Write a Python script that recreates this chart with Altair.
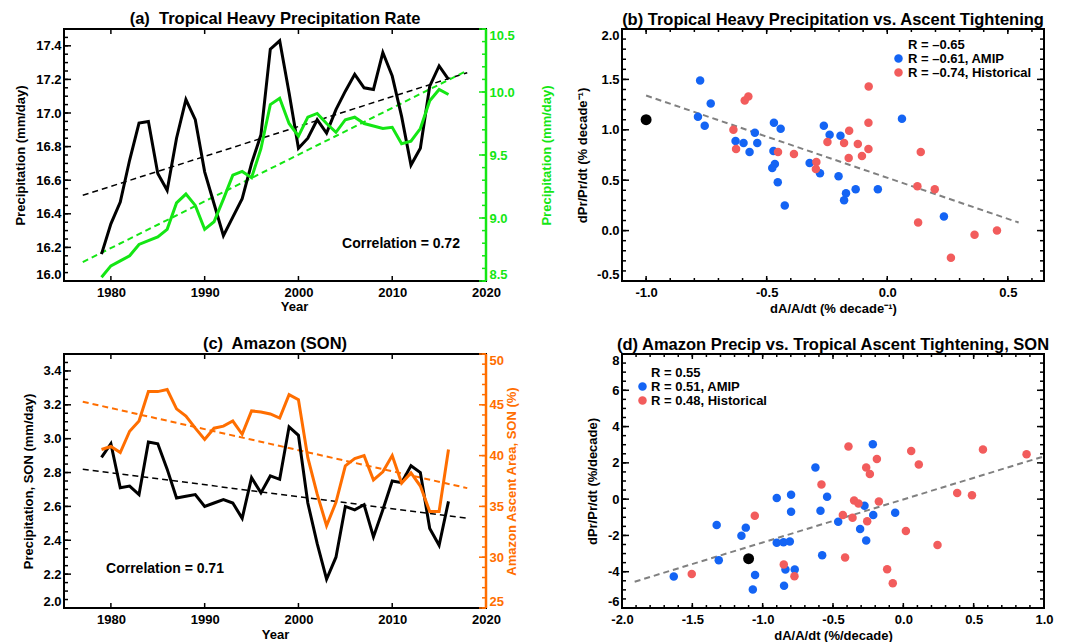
import altair as alt
import pandas as pd

FONT = "Liberation Sans"
BLUE = "#1464F4"
RED = "#F25C5C"
GREEN = "#14E614"
ORANGE = "#FF6E00"
MINUS = "replace(datum.label, '\u2212', '-')"

# ---------------- data ----------------
years = list(range(1979, 2017))

a_heavy = [16.16, 16.34, 16.47, 16.72, 16.94, 16.95, 16.64, 16.54, 16.85, 17.08,
           16.96, 16.65, 16.46, 16.27, 16.38, 16.49, 16.70, 16.87, 17.38, 17.43,
           17.12, 16.79, 16.85, 16.96, 16.88, 17.02, 17.13, 17.23, 17.15, 17.14,
           17.36, 17.22, 16.98, 16.69, 16.79, 17.16, 17.28, 17.20]
a_green = [8.53, 8.62, 8.66, 8.70, 8.79, 8.82, 8.85, 8.91, 9.12, 9.19,
           9.10, 8.91, 8.97, 9.15, 9.34, 9.37, 9.32, 9.55, 9.90, 9.95,
           9.75, 9.65, 9.80, 9.83, 9.75, 9.68, 9.78, 9.80, 9.75, 9.73,
           9.71, 9.72, 9.59, 9.61, 9.71, 9.93, 10.02, 9.98]
a_trend_years = [1977, 2018]
a_heavy_trend = [16.51, 17.24]
a_green_trend = [8.65, 10.17]

c_precip = [2.89, 2.97, 2.71, 2.72, 2.67, 2.98, 2.97, 2.82, 2.65, 2.66,
            2.67, 2.60, 2.62, 2.64, 2.62, 2.53, 2.77, 2.68, 2.78, 2.76,
            3.07, 3.02, 2.62, 2.38, 2.17, 2.30, 2.60, 2.58, 2.61, 2.42,
            2.58, 2.75, 2.74, 2.84, 2.80, 2.47, 2.37, 2.63]
c_area = [40.6, 40.9, 40.3, 42.4, 43.4, 46.3, 46.3, 46.5, 44.6, 43.9,
          42.7, 41.6, 42.7, 42.9, 43.4, 42.1, 44.4, 44.3, 44.1, 43.7,
          46.0, 45.5, 39.8, 36.2, 33.1, 35.4, 39.0, 39.7, 40.0, 37.6,
          38.4, 40.0, 37.3, 38.3, 37.0, 34.5, 34.5, 40.6]
c_trend_years = [1977, 2018]
c_precip_trend = [2.82, 2.53]
c_area_trend = [45.3, 36.8]

b_amip_x = [-0.776, -0.785, -0.732, -0.757, -0.629, -0.596, -0.549, -0.539, -0.571, -0.470,
            -0.442, -0.472, -0.466, -0.477, -0.454, -0.425, -0.322, -0.279, -0.263, -0.239,
            -0.194, -0.202, -0.171, -0.179, -0.131, -0.039, 0.061, 0.235]
b_amip_y = [1.49, 1.13, 1.26, 1.04, 0.89, 0.87, 0.97, 0.87, 0.78, 1.07,
            1.01, 0.79, 0.66, 0.62, 0.48, 0.25, 0.67, 0.57, 1.04, 0.95,
            0.94, 0.54, 0.37, 0.30, 0.41, 0.41, 1.11, 0.14]
b_hist_x = [-0.638, -0.627, -0.591, -0.576, -0.453, -0.387, -0.294, -0.296, -0.248, -0.179,
            -0.158, -0.160, -0.122, -0.105, -0.077, -0.078, -0.078, 0.125, 0.128, 0.139,
            0.197, 0.264, 0.362, 0.455]
b_hist_y = [1.00, 0.81, 1.29, 1.33, 0.78, 0.76, 0.68, 0.61, 0.88, 0.87,
            0.99, 0.72, 0.86, 0.74, 1.43, 1.07, 0.81, 0.44, 0.08, 0.78,
            0.41, -0.27, -0.04, 0.00]
b_obs = [-1.0, 1.10]
b_trend_x = [-1.0, 0.545]
b_trend_y = [1.34, 0.08]
b_labels = ["R = \u20130.65", "R = \u20130.61, AMIP", "R = \u20130.74, Historical"]

d_amip_x = [-1.632, -1.327, -1.312, -1.151, -1.120, -1.070, -1.054, -0.900, -0.900, -0.852,
            -0.807, -0.798, -0.798, -0.848, -0.838, -0.772, -0.625, -0.589, -0.577, -0.542,
            -0.463, -0.307, -0.276, -0.264, -0.217, -0.214, -0.058]
d_amip_y = [-4.27, -1.42, -3.37, -2.02, -1.57, -4.98, -4.18, 0.06, -2.40, -2.38,
            -2.34, 0.24, -0.69, -4.78, -3.88, -3.88, 1.74, -0.64, -3.09, 0.13,
            -1.25, -1.65, -0.37, -2.28, 3.03, -0.88, -0.75]
d_hist_x = [-1.504, -1.056, -0.850, -0.774, -0.582, -0.430, -0.414, -0.390, -0.361, -0.350,
            -0.319, -0.264, -0.257, -0.238, -0.188, -0.174, -0.115, -0.075, 0.018, 0.056,
            0.110, 0.243, 0.383, 0.488, 0.566, 0.876]
d_hist_y = [-4.12, -0.92, -3.60, -4.25, 0.81, -0.88, -3.22, 2.90, -1.03, -0.07,
            -0.24, 1.74, -1.22, 1.39, 2.21, -0.13, -3.86, -4.63, -1.76, 2.66,
            1.91, -2.53, 0.34, 0.22, 2.73, 2.47]
d_obs = [-1.10, -3.28]
d_trend_x = [-1.91, 1.0]
d_trend_y = [-4.55, 2.36]
d_labels = ["R = 0.55", "R = 0.51, AMIP", "R = 0.48, Historical"]

W = 422
H1 = 252
H2 = 254


def frange(a, b, step, nd=3):
    out = []
    i = 0
    while True:
        v = round(a + i * step, nd)
        if v > b + 1e-9:
            break
        out.append(v)
        i += 1
    return out


def label_axis(orient, values, title, tx, ty, color="black", fmt=".1f",
               label_padding=3, flush=False):
    d = dict(orient=orient, values=values, grid=False, domain=False, ticks=False,
             labels=True, title=title, offset=0, format=fmt, labelColor=color,
             labelPadding=label_padding, labelExpr=MINUS, labelFlush=flush,
             labelOverlap=False, labelFont=FONT, labelFontSize=13,
             labelFontWeight="bold", titleColor=color, titleFont=FONT,
             titleFontSize=13, titleFontWeight="bold", titleX=tx, titleY=ty,
             titleAlign="center", titleBaseline="middle")
    d["titleAngle"] = 270 if orient in ("left", "right") else 0
    return alt.Axis(**d)


def sc(dom):
    return alt.Scale(domain=dom, nice=False, zero=False)


def title(txt):
    return alt.TitleParams(txt, font=FONT, fontSize=16.5, fontWeight="bold",
                           anchor="middle", offset=0, color="black")


def yticks(values, ys, side, length, H, color="black"):
    x0, x1 = (0, length) if side == "left" else (W - length, W)
    return alt.Chart(pd.DataFrame({"v": values})).mark_rule(
        color=color, strokeWidth=1.5).encode(
        y=alt.Y("v:Q", scale=ys, axis=None), x=alt.value(x0), x2=alt.value(x1))


def xticks(values, xs, side, length, H, color="black"):
    y0, y1 = (0, length) if side == "top" else (H - length, H)
    return alt.Chart(pd.DataFrame({"v": values})).mark_rule(
        color=color, strokeWidth=1.5).encode(
        x=alt.X("v:Q", scale=xs, axis=None), y=alt.value(y0), y2=alt.value(y1))


def timeseries(left_vals, right_vals, trend_years, left_trend, right_trend,
               left_dom, right_dom, left_major, left_minor, right_major, right_minor,
               right_color, left_title, right_title, right_fmt, ltx, rtx, year_tx, year_ty,
               ttl, note, note_x, note_y, H):
    df = pd.DataFrame({"year": years, "left": left_vals, "right": right_vals})
    tr = pd.DataFrame({"year": trend_years, "left": left_trend, "right": right_trend})
    xs = sc([1975, 2020])
    yl = sc(left_dom)
    yr = sc(right_dom)
    xmaj = [1980, 1990, 2000, 2010, 2020]
    xtk = [1980, 1990, 2000, 2010]

    layers = [
        yticks(left_major, yl, "left", 7, H),
        yticks(left_minor, yl, "left", 4, H),
        yticks(right_major, yr, "right", 7, H, right_color),
        yticks(right_minor, yr, "right", 4, H, right_color),
        xticks(xtk, xs, "bottom", 5, H),
        xticks(xtk, xs, "top", 5, H),
        alt.Chart(tr).mark_line(color="black", strokeWidth=1.5, strokeDash=[6, 4]).encode(
            x=alt.X("year:Q", scale=xs, axis=None),
            y=alt.Y("left:Q", scale=yl, axis=None)),
        alt.Chart(tr).mark_line(color=right_color, strokeWidth=2, strokeDash=[6, 4]).encode(
            x=alt.X("year:Q", scale=xs, axis=None),
            y=alt.Y("right:Q", scale=yr, axis=None)),
        alt.Chart(df).mark_line(color="black", strokeWidth=3).encode(
            x=alt.X("year:Q", scale=xs,
                    axis=label_axis("bottom", xmaj, "Year", year_tx, year_ty, fmt="d",
                                    label_padding=5)),
            y=alt.Y("left:Q", scale=yl,
                    axis=label_axis("left", left_major, left_title, ltx, H / 2,
                                    flush=True))),
        alt.Chart(df).mark_line(color=right_color, strokeWidth=3).encode(
            x=alt.X("year:Q", scale=xs, axis=None),
            y=alt.Y("right:Q", scale=yr,
                    axis=label_axis("right", right_major, right_title, rtx, H / 2,
                                    color=right_color, fmt=right_fmt, flush=True))),
        alt.Chart(pd.DataFrame({"d": [0]})).mark_rule(color=right_color, strokeWidth=2.5).encode(
            x=alt.value(W), y=alt.value(0), y2=alt.value(H)),
        alt.Chart(pd.DataFrame({"t": [note]})).mark_text(
            font=FONT, fontSize=14, fontWeight="bold", color="black", align="center",
            baseline="middle").encode(x=alt.value(note_x), y=alt.value(note_y), text="t:N"),
    ]
    return alt.layer(*layers).resolve_scale(
        x="independent", y="independent").properties(width=W, height=H, title=title(ttl))


def scatter(amip_x, amip_y, hist_x, hist_y, obs, trend_x, trend_y, labels,
            xdom, ydom, xmaj, xmin, ymaj, ymin, yfmt, xtitle, ytitle, ltx, ttl,
            lx, ly, loff, H):
    df = pd.DataFrame({
        "x": amip_x + hist_x,
        "y": amip_y + hist_y,
        "g": [labels[1]] * len(amip_x) + [labels[2]] * len(hist_x)})
    ob = pd.DataFrame({"x": [obs[0]], "y": [obs[1]]})
    tr = pd.DataFrame({"x": trend_x, "y": trend_y})
    xs = sc(xdom)
    ys = sc(ydom)

    pts = alt.Chart(df).mark_circle(size=72, opacity=1).encode(
        x=alt.X("x:Q", scale=xs,
                axis=label_axis("bottom", xmaj, xtitle, W / 2, 27, label_padding=5)),
        y=alt.Y("y:Q", scale=ys,
                axis=label_axis("left", ymaj, ytitle, ltx, H / 2, fmt=yfmt, flush=True)),
        color=alt.Color("g:N", scale=alt.Scale(domain=labels,
                                               range=["transparent", BLUE, RED]),
                        legend=alt.Legend(orient="none", legendX=lx, legendY=ly,
                                          title=None, labelFont=FONT, labelFontSize=13,
                                          labelFontWeight="bold", symbolSize=72,
                                          symbolType="circle", symbolStrokeWidth=0,
                                          rowPadding=0, labelOffset=loff, padding=0,
                                          labelLimit=300)))
    obs_l = alt.Chart(ob).mark_circle(size=120, color="black", opacity=1).encode(
        x=alt.X("x:Q", scale=xs, axis=None),
        y=alt.Y("y:Q", scale=ys, axis=None))
    trend = alt.Chart(tr).mark_line(color="#808080", strokeWidth=2,
                                    strokeDash=[6, 4]).encode(
        x=alt.X("x:Q", scale=xs, axis=None),
        y=alt.Y("y:Q", scale=ys, axis=None))
    layers = [
        yticks(ymaj, ys, "left", 7, H), yticks(ymin, ys, "left", 4, H),
        yticks(ymaj, ys, "right", 7, H), yticks(ymin, ys, "right", 4, H),
        xticks(xmaj, xs, "bottom", 5, H), xticks(xmin, xs, "bottom", 3, H),
        xticks(xmaj, xs, "top", 5, H), xticks(xmin, xs, "top", 3, H),
        trend, pts, obs_l]
    return alt.layer(*layers).resolve_scale(
        x="independent", y="independent").properties(width=W, height=H, title=title(ttl))


pa = timeseries(a_heavy, a_green, a_trend_years, a_heavy_trend, a_green_trend,
                [16.0, 17.5], [8.5, 10.5],
                frange(16.0, 17.4, 0.2), frange(16.0, 17.5, 0.05),
                frange(8.5, 10.5, 0.5), frange(8.5, 10.5, 0.1),
                GREEN, "Precipitation (mm/day)", "Precipitation (mm/day)", ".1f",
                -44, 60, 230, 25,
                "(a)\u00a0 Tropical Heavy Precipitation Rate",
                "Correlation = 0.72", 337, 215, H1)

pc = timeseries(c_precip, c_area, c_trend_years, c_precip_trend, c_area_trend,
                [2.0, 3.5], [25, 50],
                frange(2.0, 3.4, 0.2), frange(2.0, 3.5, 0.05),
                frange(25, 50, 5), frange(25, 50, 1),
                ORANGE, "Precipitation, SON (mm/day)", "Amazon Ascent Area, SON (%)", "d",
                -36, 25, 211, 26,
                "(c)\u00a0 Amazon (SON)",
                "Correlation = 0.71", 101, 215, H2)

pb = scatter(b_amip_x, b_amip_y, b_hist_x, b_hist_y, b_obs, b_trend_x, b_trend_y, b_labels,
             [-1.1, 0.65], [-0.5, 2.0],
             [-1.0, -0.5, 0.0, 0.5], frange(-1.1, 0.65, 0.1),
             frange(-0.5, 2.0, 0.5), frange(-0.5, 2.0, 0.1), ".1f",
             "dA/A/dt (% decade\u207b\u00b9)", "dPr/Pr/dt (% decade\u207b\u00b9)", -40,
             "(b) Tropical Heavy Precipitation vs. Ascent Tightening",
             270, 9, 3, H1)

pd_ = scatter(d_amip_x, d_amip_y, d_hist_x, d_hist_y, d_obs, d_trend_x, d_trend_y, d_labels,
              [-2.0, 1.0], [-6, 8],
              frange(-2.0, 1.0, 0.5), frange(-2.0, 1.0, 0.1),
              frange(-6, 8, 2), frange(-6, 8, 0.5), "d",
              "dA/A/dt (%/decade)", "dPr/Pr/dt (%/decade)", -30,
              "(d) Amazon Precip vs. Tropical Ascent Tightening, SON",
              14, 12, 2, H2)

chart = alt.concat(pa, pb, pc, pd_, columns=2, spacing={"row": 19, "column": 21}).resolve_scale(
    color="independent").resolve_legend(color="independent").properties(
    padding={"left": 5, "top": 2, "right": 5, "bottom": 2}, background="white"
).configure_view(stroke="black", strokeWidth=2).configure_axis(
    labelFont=FONT, titleFont=FONT)

chart.save("out.html", embed_options={"renderer": "svg", "actions": False})
